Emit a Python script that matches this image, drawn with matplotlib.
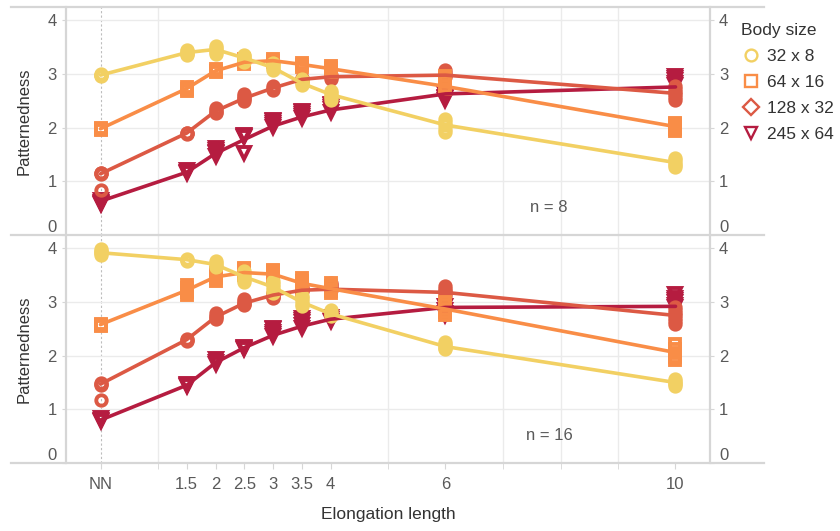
import matplotlib.pyplot as plt
from matplotlib.lines import Line2D

plt.rcParams['font.family'] = ['Liberation Sans', 'DejaVu Sans']

# elongation lengths, NN (nearest neighbour) drawn at 0
x_pos = [0, 1.5, 2, 2.5, 3, 3.5, 4, 6, 10]
x_labels = ['NN', '1.5', '2', '2.5', '3', '3.5', '4', '6', '10']

body_sizes = ['32 x 8', '64 x 16', '128 x 32', '245 x 64']
colors = ['#F2D063', '#F98D47', '#DC5944', '#B51C40']
plot_markers = ['o', 's', 'o', 'v']
legend_markers = ['o', 's', 'D', 'v']

# ---- n = 8 ----
mean_n8_32x8 = [2.98, 3.40, 3.46, 3.30, 3.12, 2.83, 2.62, 2.05, 1.35]
mean_n8_64x16 = [1.98, 2.73, 3.06, 3.22, 3.25, 3.18, 3.10, 2.77, 2.02]
mean_n8_128x32 = [1.14, 1.90, 2.31, 2.55, 2.74, 2.90, 2.95, 2.98, 2.64]
mean_n8_245x64 = [0.63, 1.17, 1.52, 1.78, 2.03, 2.20, 2.33, 2.63, 2.76]

reps_n8_32x8 = [[2.97, 2.98, 2.99, 3.00], [3.35, 3.38, 3.40, 3.43, 3.45],
                [3.38, 3.42, 3.45, 3.49, 3.52], [3.23, 3.27, 3.30, 3.33, 3.35],
                [3.08, 3.12, 3.15, 3.18, 3.20], [2.80, 2.83, 2.85, 2.88, 2.90],
                [2.52, 2.57, 2.60, 2.64, 2.68], [1.92, 1.98, 2.05, 2.11, 2.17],
                [1.27, 1.31, 1.35, 1.40, 1.44]]
reps_n8_64x16 = [[1.96, 1.98, 1.99], [2.69, 2.72, 2.75], [3.03, 3.06, 3.10],
                 [3.18, 3.22, 3.25, 3.28], [3.22, 3.25, 3.28],
                 [3.13, 3.16, 3.20], [3.03, 3.08, 3.12, 3.15],
                 [2.72, 2.78, 2.85, 2.91, 2.97], [1.93, 1.98, 2.02, 2.06, 2.09]]
reps_n8_128x32 = [[0.84, 1.13, 1.15, 1.16], [1.88, 1.90, 1.91],
                  [2.27, 2.30, 2.33, 2.37], [2.50, 2.53, 2.56, 2.59, 2.62],
                  [2.70, 2.74, 2.78], [2.87, 2.90, 2.93], [2.90, 2.94, 2.98],
                  [2.95, 2.99, 3.02, 3.07],
                  [2.52, 2.57, 2.62, 2.67, 2.72, 2.78]]
reps_n8_245x64 = [[0.58, 0.60, 0.62, 0.66], [1.16, 1.18, 1.21],
                  [1.48, 1.52, 1.55, 1.59, 1.62], [1.53, 1.82, 1.85, 1.87],
                  [2.02, 2.05, 2.08, 2.12, 2.15], [2.18, 2.22, 2.25, 2.29, 2.32],
                  [2.30, 2.34, 2.38, 2.42, 2.45], [2.52, 2.55, 2.58, 2.63],
                  [2.80, 2.84, 2.88, 2.92, 2.96]]

# ---- n = 16 ----
mean_n16_32x8 = [3.92, 3.79, 3.70, 3.47, 3.28, 3.00, 2.78, 2.17, 1.50]
mean_n16_64x16 = [2.58, 3.22, 3.47, 3.55, 3.52, 3.35, 3.25, 2.87, 2.06]
mean_n16_128x32 = [1.47, 2.30, 2.72, 2.98, 3.13, 3.22, 3.24, 3.18, 2.75]
mean_n16_245x64 = [0.80, 1.45, 1.87, 2.15, 2.38, 2.55, 2.68, 2.90, 2.92]

reps_n16_32x8 = [[3.88, 3.91, 3.93, 3.96, 3.98], [3.76, 3.78, 3.80],
                 [3.66, 3.69, 3.72, 3.76], [3.37, 3.42, 3.47, 3.52, 3.58],
                 [3.16, 3.22, 3.28, 3.34, 3.40], [2.92, 2.97, 3.02, 3.07, 3.12],
                 [2.74, 2.77, 2.80, 2.85], [2.12, 2.15, 2.18, 2.22, 2.25],
                 [1.44, 1.47, 1.50, 1.53, 1.56]]
reps_n16_64x16 = [[2.56, 2.58, 2.60], [3.13, 3.18, 3.22, 3.27, 3.31],
                  [3.40, 3.44, 3.47, 3.51, 3.55], [3.50, 3.54, 3.57, 3.61, 3.64],
                  [3.45, 3.49, 3.53, 3.57, 3.60], [3.22, 3.28, 3.33, 3.39, 3.45],
                  [3.17, 3.21, 3.25, 3.30, 3.35], [2.75, 2.81, 2.87, 2.94, 3.00],
                  [1.92, 1.98, 2.05, 2.13, 2.22]]
reps_n16_128x32 = [[1.17, 1.46, 1.48, 1.49], [2.28, 2.30, 2.32],
                   [2.69, 2.72, 2.74, 2.79], [2.94, 2.97, 2.99, 3.02, 3.05],
                   [3.08, 3.10, 3.12, 3.15, 3.17], [3.20, 3.22, 3.24, 3.28],
                   [3.22, 3.25, 3.28, 3.32, 3.35], [3.12, 3.16, 3.20, 3.25, 3.30],
                   [2.60, 2.65, 2.70, 2.75, 2.80, 2.85, 2.90]]
reps_n16_245x64 = [[0.78, 0.80, 0.83], [1.43, 1.45, 1.47], [1.85, 1.89, 1.93],
                   [2.12, 2.15, 2.17], [2.36, 2.40, 2.45, 2.49, 2.52],
                   [2.52, 2.57, 2.62, 2.66, 2.70], [2.64, 2.68, 2.72],
                   [2.75, 2.80, 2.85, 2.92], [2.90, 2.95, 3.00, 3.04, 3.08, 3.15]]

TXT = '#595959'
DARK = '#333333'
GRID = '#ebebeb'
FRAME = '#d6d6d6'


def draw_panel(ax, means, reps, n_label, bottom):
    for i in reversed(range(4)):
        ms = 8.5 if plot_markers[i] == 'v' else 7.5
        for xx, ys in zip(x_pos, reps[i]):
            ax.plot([xx] * len(ys), ys, ls='none', marker=plot_markers[i],
                    ms=ms, mfc='none', mec=colors[i], mew=2.8, zorder=3)
    for i in reversed(range(4)):
        ax.plot(x_pos, means[i], color=colors[i], lw=2.6, zorder=4,
                solid_capstyle='round')

    ax.set_xlim(-0.6, 10.6)
    ax.set_ylim(0, 4.25)
    ax.set_yticks([0, 1, 2, 3, 4])
    ax.set_xticks(x_pos)
    ax.set_xticks(range(1, 11), minor=True)
    ax.grid(axis='y', color=GRID, lw=1)
    ax.grid(axis='x', which='minor', color=GRID, lw=1)
    ax.axvline(0, color='#bdbdbd', lw=0.8, ls=(0, (2, 2)), zorder=1)
    for s in ax.spines.values():
        s.set_visible(False)

    ax.tick_params(axis='y', left=True, right=True, labelleft=True,
                   labelright=True, length=3, color=FRAME, labelcolor=TXT,
                   labelsize=12, pad=3.5)
    if bottom:
        ax.set_xticklabels(x_labels)
        ax.tick_params(axis='x', which='both', length=4, color=FRAME,
                       labelcolor=TXT, labelsize=12, pad=6)
    else:
        ax.tick_params(axis='x', which='both', bottom=False,
                       labelbottom=False)
    # zero label sits just above the panel edge
    t0 = ax.yaxis.get_major_ticks()[0]
    t0.label1.set_va('bottom')
    t0.label2.set_va('bottom')

    ax.set_ylabel('Patternedness', fontsize=12, color=DARK)
    ax.yaxis.set_label_coords(-0.053, 0.5)
    ax.text(7.8, 0.52, n_label, ha='center', va='center', fontsize=12,
            color=TXT)


fig = plt.figure(figsize=(8.4, 5.31), dpi=100)
W, H = 840, 531
left, right = 66 / W, 710 / W
ax_top = fig.add_axes([left, 1 - 235 / H, right - left, 228 / H])
ax_bot = fig.add_axes([left, 1 - 463 / H, right - left, 228 / H])

draw_panel(ax_top,
           [mean_n8_32x8, mean_n8_64x16, mean_n8_128x32, mean_n8_245x64],
           [reps_n8_32x8, reps_n8_64x16, reps_n8_128x32, reps_n8_245x64],
           'n = 8', False)
draw_panel(ax_bot,
           [mean_n16_32x8, mean_n16_64x16, mean_n16_128x32, mean_n16_245x64],
           [reps_n16_32x8, reps_n16_64x16, reps_n16_128x32, reps_n16_245x64],
           'n = 16', True)

# panel frame lines
for yy in [7, 235, 463]:
    fig.add_artist(Line2D([11 / W, 764 / W], [1 - yy / H, 1 - yy / H],
                          transform=fig.transFigure, color=FRAME, lw=1.6))
for xx in [66, 710]:
    fig.add_artist(Line2D([xx / W, xx / W], [1 - 7 / H, 1 - 463 / H],
                          transform=fig.transFigure, color=FRAME, lw=1.6))

fig.text(388 / W, 1 - 515 / H, 'Elongation length', ha='center',
         va='center', fontsize=12.5, color=DARK)

handles = [Line2D([], [], ls='none', marker=legend_markers[i], ms=8.5,
                  mfc='none', mec=colors[i], mew=1.7) for i in range(4)]
leg = fig.legend(handles, body_sizes, title='Body size', loc='upper left',
                 bbox_to_anchor=(734 / W, 1 - 16 / H), frameon=False,
                 fontsize=12.5, title_fontsize=12.5, handletextpad=0.3,
                 labelspacing=0.62, handlelength=1.2, alignment='left',
                 borderaxespad=0)
leg.get_title().set_color(DARK)
for t in leg.get_texts():
    t.set_color(DARK)

fig.savefig('out.png', dpi=100)
